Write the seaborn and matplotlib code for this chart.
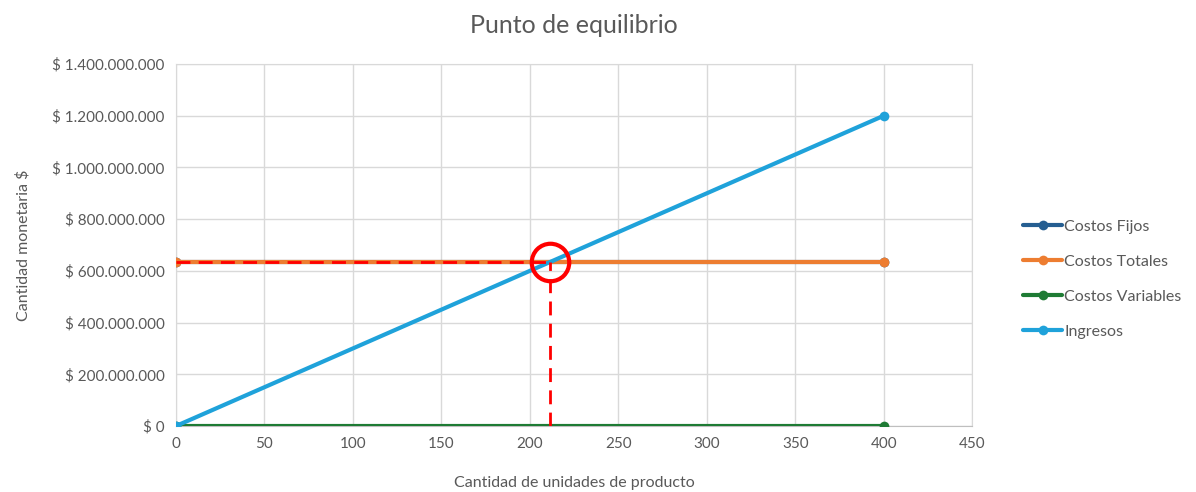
import numpy as np
import matplotlib.pyplot as plt
import matplotlib.ticker as mticker
import seaborn as sns

# datos
unidades = [0, 400]
costos_fijos = [634000000, 634000000]
costos_totales = [634000000, 634000000]
costos_variables = [0, 0]
ingresos = [0, 1200000000]

series = ['Costos Fijos', 'Costos Totales', 'Costos Variables', 'Ingresos']
valores = [costos_fijos, costos_totales, costos_variables, ingresos]
colores = ['#255E91', '#ED7D31', '#1E7B34', '#1FA2DA']

sns.set_style('white')
plt.rcParams['font.family'] = ['Lato', 'DejaVu Sans']
gris = '#595959'

fig = plt.figure(figsize=(11.96, 4.92), dpi=100)
ax = fig.add_axes([0.147, 0.134, 0.666, 0.736])

for nombre, vals, c in zip(series, valores, colores):
    sns.lineplot(x=unidades, y=vals, ax=ax, color=c, lw=3, marker='o',
                 markersize=7, markeredgewidth=0, label=nombre, zorder=3)

# punto de equilibrio
precio = ingresos[1] / unidades[1]
q_eq = costos_totales[0] / precio
ax.plot([0, q_eq], [costos_totales[0], costos_totales[0]], color='red',
        lw=2, ls=(0, (5, 3)), zorder=4)
ax.plot([q_eq, q_eq], [0, costos_totales[0]], color='red',
        lw=2, ls=(0, (5, 3)), zorder=4)
ax.plot([q_eq], [costos_totales[0]], marker='o', markersize=27,
        markerfacecolor='none', markeredgecolor='red', markeredgewidth=3, zorder=5)

ax.set_xlim(0, 450)
ax.set_ylim(0, 1400000000)
ax.set_xticks(np.arange(0, 451, 50))
ax.set_yticks(np.arange(0, 1400000001, 200000000))
ax.yaxis.set_major_formatter(mticker.FuncFormatter(
    lambda v, p: '$ ' + f'{int(v):,}'.replace(',', '.')))
ax.grid(True, color='#D9D9D9', lw=1)
for s in ax.spines.values():
    s.set_visible(True)
    s.set_color('#D9D9D9')
ax.spines['bottom'].set_color('#BFBFBF')
ax.tick_params(axis='both', colors=gris, labelsize=11, length=0, pad=8)

ax.set_title('Punto de equilibrio', fontsize=18, color=gris, pad=22)
ax.set_xlabel('Cantidad de unidades de producto', fontsize=11.5, color=gris, labelpad=18)
ax.set_ylabel('Cantidad monetaria $', fontsize=11.5, color=gris, labelpad=16)

leg = ax.legend(loc='center left', bbox_to_anchor=(1.045, 0.405), frameon=False,
                fontsize=11.5, handlelength=2.5, handletextpad=0.1, labelspacing=1.3,
                labelcolor=gris)

plt.savefig('out.png', dpi=100)
